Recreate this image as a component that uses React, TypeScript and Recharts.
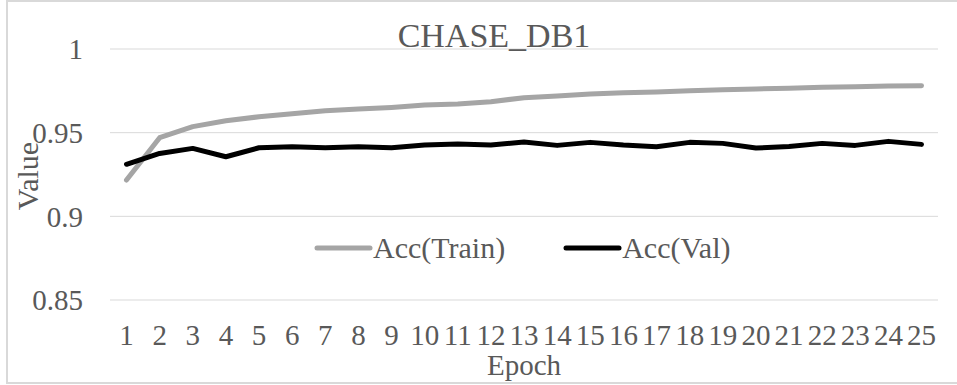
import React from "react";
import {
  CartesianGrid,
  Legend,
  Line,
  LineChart,
  XAxis,
  YAxis,
} from "recharts";

const epochs = [1, 2, 3, 4, 5, 6, 7, 8, 9, 10, 11, 12, 13, 14, 15, 16, 17, 18, 19, 20, 21, 22, 23, 24, 25];

const accTrain = [
  0.9217, 0.947, 0.9536, 0.9571, 0.9595, 0.9613, 0.9631, 0.9641, 0.9651,
  0.9665, 0.9671, 0.9685, 0.9709, 0.9719, 0.9731, 0.9739, 0.9743, 0.9751,
  0.9757, 0.9761, 0.9765, 0.9771, 0.9775, 0.9779, 0.9781,
];

const accVal = [
  0.9311, 0.9376, 0.9406, 0.9356, 0.941, 0.9416, 0.941, 0.9416, 0.941,
  0.9426, 0.9432, 0.9426, 0.9444, 0.9424, 0.9442, 0.9426, 0.9416, 0.9442,
  0.9436, 0.9408, 0.9418, 0.9436, 0.9424, 0.9448, 0.943,
];

const yTicks = [0.85, 0.9, 0.95, 1];

const TEXT = "#595959";
const GRID = "#D9D9D9";
const FONT = '"Liberation Serif", "Times New Roman", serif';

const series = [
  { key: "train", name: "Acc(Train)", color: "#A5A5A5" },
  { key: "val", name: "Acc(Val)", color: "#000000" },
];

const data = epochs.map((epoch, i) => ({
  epoch,
  train: accTrain[i],
  val: accVal[i],
}));

const tickStyle = { fontSize: 29, fill: TEXT, fontFamily: FONT };

function LegendRow() {
  return (
    <div style={{ display: "flex", alignItems: "center", gap: 58, fontFamily: FONT }}>
      {series.map((s) => (
        <div key={s.key} style={{ display: "flex", alignItems: "center" }}>
          <svg width={59} height={10} style={{ display: "block" }}>
            <line
              x1={3}
              x2={56}
              y1={5}
              y2={5}
              stroke={s.color}
              strokeWidth={5}
              strokeLinecap="round"
            />
          </svg>
          <span style={{ fontSize: 30, color: TEXT, lineHeight: 1.15 }}>
            {s.name}
          </span>
        </div>
      ))}
    </div>
  );
}

export default function App() {
  return (
    <div
      style={{
        position: "absolute",
        left: 0,
        top: 0,
        width: 957,
        height: 385,
        overflow: "hidden",
        background: "#fff",
        fontFamily: FONT,
      }}
    >
      <div
        style={{
          position: "absolute",
          left: 6,
          top: 0,
          width: 980,
          height: 380,
          border: `2px solid ${GRID}`,
        }}
      />
      <LineChart
        width={957}
        height={385}
        data={data}
        margin={{ top: 49, right: 19, bottom: 0, left: 0 }}
        style={{ fontFamily: FONT }}
      >
        <CartesianGrid vertical={false} stroke={GRID} strokeWidth={1} />
        <XAxis
          dataKey="epoch"
          height={85}
          interval={0}
          axisLine={false}
          tickLine={false}
          tickSize={0}
          tickMargin={24}
          padding={{ left: 16.5, right: 16.5 }}
          tick={tickStyle}
          label={{
            value: "Epoch",
            position: "insideBottom",
            offset: 10,
            ...tickStyle,
          }}
        />
        <YAxis
          width={110}
          domain={[0.85, 1]}
          ticks={yTicks}
          axisLine={false}
          tickLine={false}
          tickSize={0}
          tickMargin={27}
          tick={tickStyle}
          label={{
            content: ({ viewBox }: any) => {
              const cy = viewBox.y + viewBox.height / 2 + 1.5;
              return (
                <text
                  x={38}
                  y={cy}
                  transform={`rotate(-90, 38, ${cy})`}
                  textAnchor="middle"
                  fontSize={30}
                  fill={TEXT}
                  fontFamily={FONT}
                >
                  Value
                </text>
              );
            },
          }}
        />
        <text
          x={494}
          y={47}
          textAnchor="middle"
          fontSize={34}
          fill={TEXT}
          fontFamily={FONT}
        >
          CHASE_DB1
        </text>
        <Legend
          layout="horizontal"
          verticalAlign="middle"
          align="center"
          content={() => <LegendRow />}
          wrapperStyle={{ position: "absolute", left: 314, top: 231, width: "auto" }}
        />
        {series.map((s) => (
          <Line
            key={s.key}
            type="linear"
            dataKey={s.key}
            name={s.name}
            stroke={s.color}
            strokeWidth={5}
            strokeLinecap="round"
            strokeLinejoin="round"
            dot={false}
            activeDot={false}
            isAnimationActive={false}
          />
        ))}
      </LineChart>
    </div>
  );
}
